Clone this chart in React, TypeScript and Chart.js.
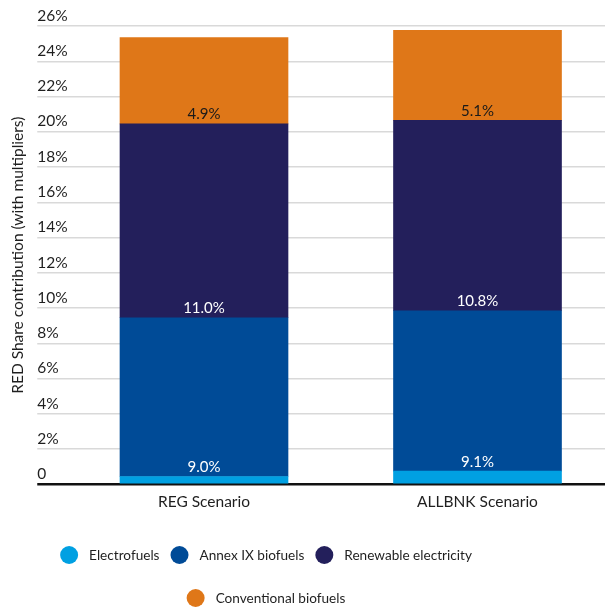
import { useEffect, useRef } from 'react';
import { Chart, registerables, Plugin } from 'chart.js';

Chart.register(...registerables);

// Scenario categories and stacked contributions (percentage points)
const categories = ['REG Scenario', 'ALLBNK Scenario'];
const electrofuels = [0.45, 0.75];
const annexIXBiofuels = [9.0, 9.1];
const renewableElectricity = [11.0, 10.8];
const conventionalBiofuels = [4.9, 5.1];

const seriesNames = ['Electrofuels', 'Annex IX biofuels', 'Renewable electricity', 'Conventional biofuels'];
const seriesColors = ['#00A0E2', '#004B97', '#231F5B', '#DF7718'];
// Colour of the value printed at the base of each segment (null = no label)
const segmentLabelColors: (string | null)[] = [null, '#FFFFFF', '#FFFFFF', '#1A1A1A'];

const yMin = 0;
const yMax = 26;
const yStep = 2;
const yTitle = 'RED Share contribution (with multipliers)';

const FONT = 'Lato';
const TEXT = '#1F1F1F';

// Prints each segment's value just above the segment's lower edge
const segmentLabels: Plugin<'bar'> = {
  id: 'segmentLabels',
  afterDatasetsDraw(chart) {
    const { ctx } = chart;
    chart.data.datasets.forEach((ds, di) => {
      const color = segmentLabelColors[di];
      if (!color) return;
      const meta = chart.getDatasetMeta(di);
      meta.data.forEach((bar, i) => {
        const { x, base } = bar.getProps(['x', 'base'], true) as { x: number; base: number };
        const v = ds.data[i] as number;
        ctx.save();
        ctx.font = `15px ${FONT}`;
        ctx.fillStyle = color;
        ctx.textAlign = 'center';
        ctx.textBaseline = 'alphabetic';
        ctx.fillText(`${v.toFixed(1)}%`, x, base - 4.5);
        ctx.restore();
      });
    });
  },
};

// Lets the category axis run a little past the right edge of the canvas
const widenCategoryAxis: Plugin<'bar'> = {
  id: 'widenCategoryAxis',
  afterLayout(chart, _args, opts: any) {
    const xs: any = chart.scales.x;
    xs.right += opts.extraRight;
    xs.width += opts.extraRight;
    xs.configure();
  },
};

// Centred, wrapping legend with round swatches
const roundLegend: Plugin<'bar'> = {
  id: 'roundLegend',
  afterDraw(chart, _args, opts: any) {
    const { ctx } = chart;
    const { centerX, firstRowY, rowGap, radius, textGap, itemGap, maxRowWidth, fontSize } = opts;
    ctx.save();
    ctx.font = `${fontSize}px ${FONT}`;
    const items = chart.data.datasets.map((ds) => {
      const text = String(ds.label);
      const w = radius * 2 + textGap + ctx.measureText(text).width;
      return { text, color: ds.backgroundColor as string, w };
    });
    const rows: (typeof items)[] = [[]];
    let rowW = 0;
    items.forEach((it) => {
      const add = (rows[rows.length - 1].length ? itemGap : 0) + it.w;
      if (rows[rows.length - 1].length && rowW + add > maxRowWidth) {
        rows.push([it]);
        rowW = it.w;
      } else {
        rows[rows.length - 1].push(it);
        rowW += add;
      }
    });
    rows.forEach((row, r) => {
      const total = row.reduce((s, it) => s + it.w, 0) + itemGap * (row.length - 1);
      let x = centerX - total / 2;
      const y = firstRowY + r * rowGap;
      row.forEach((it) => {
        ctx.beginPath();
        ctx.fillStyle = it.color;
        ctx.arc(x + radius, y, radius, 0, Math.PI * 2);
        ctx.fill();
        ctx.fillStyle = TEXT;
        ctx.textAlign = 'left';
        ctx.textBaseline = 'middle';
        ctx.fillText(it.text, x + radius * 2 + textGap, y + 0.5);
        x += it.w + itemGap;
      });
    });
    ctx.restore();
  },
};

export default function App() {
  const canvasRef = useRef<HTMLCanvasElement | null>(null);

  useEffect(() => {
    if (!canvasRef.current) return;
    const series = [electrofuels, annexIXBiofuels, renewableElectricity, conventionalBiofuels];
    const chart = new Chart(canvasRef.current, {
      type: 'bar',
      data: {
        labels: categories,
        datasets: series.map((data, i) => ({
          label: seriesNames[i],
          data,
          backgroundColor: seriesColors[i],
          borderWidth: 0,
          barThickness: 168,
        })),
      },
      options: {
        responsive: false,
        animation: false,
        layout: { padding: { top: 26, right: 0, bottom: 89, left: 0 } },
        plugins: {
          legend: { display: false },
          tooltip: { enabled: false },
          widenCategoryAxis: { extraRight: 9.25 },
          roundLegend: {
            centerX: 266,
            firstRowY: 555,
            rowGap: 43,
            radius: 9,
            textGap: 11,
            itemGap: 11,
            maxRowWidth: 480,
            fontSize: 13.6,
          },
        } as any,
        scales: {
          x: {
            stacked: true,
            grid: { display: false, drawTicks: false },
            border: { display: false },
            ticks: { color: TEXT, font: { family: FONT, size: 15.5 }, padding: 8 },
          },
          y: {
            stacked: true,
            min: yMin,
            max: yMax,
            border: { display: false },
            grid: {
              drawTicks: true,
              tickLength: 30,
              color: (c: any) => (c.tick && c.tick.value === 0 ? '#111111' : '#D9D9D9'),
              lineWidth: (c: any) => (c.tick && c.tick.value === 0 ? 2.5 : 1.5),
            },
            ticks: {
              stepSize: yStep,
              mirror: true,
              padding: -30,
              labelOffset: -10.3,
              color: TEXT,
              font: { family: FONT, size: 15.5 },
              callback: (v: any) => (Number(v) === 0 ? '0' : `${v}%`),
            },
            title: {
              display: true,
              text: yTitle,
              color: TEXT,
              font: { family: FONT, size: 15.5 },
              padding: { top: 8.5, bottom: 0 },
            },
            afterFit: (scale: any) => {
              scale.width = 67.25;
            },
          },
        },
      },
      plugins: [widenCategoryAxis, segmentLabels, roundLegend],
    });
    return () => chart.destroy();
  }, []);

  return (
    <div style={{ position: 'absolute', left: 0, top: 0, width: 605, height: 608 }}>
      <canvas ref={canvasRef} width={605} height={608} style={{ display: 'block' }} />
    </div>
  );
}
